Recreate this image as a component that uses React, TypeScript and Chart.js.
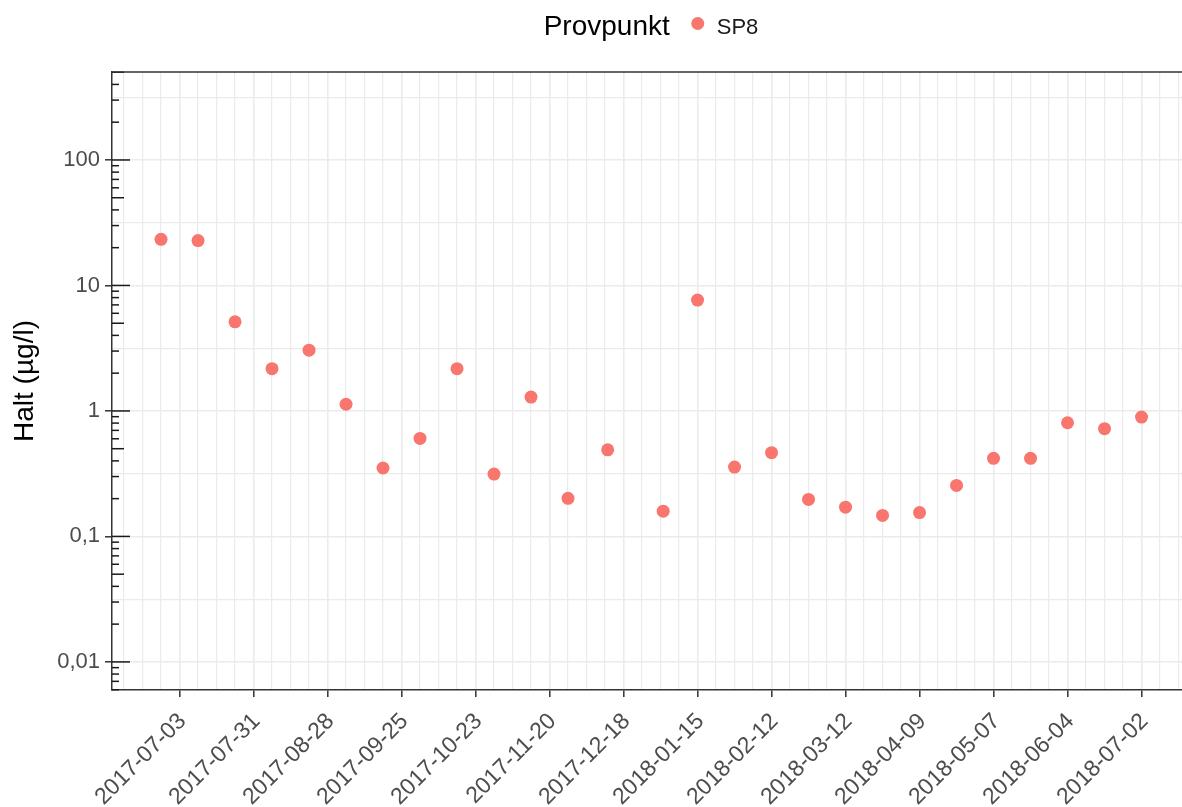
import React, { useEffect, useRef } from "react";
import { Chart, registerables } from "chart.js";

Chart.register(...registerables);

// ---- data ----
const sampleDates: string[] = [
  "2017-06-26", "2017-07-10", "2017-07-24", "2017-08-07", "2017-08-21",
  "2017-09-04", "2017-09-18", "2017-10-02", "2017-10-16", "2017-10-30",
  "2017-11-13", "2017-11-27", "2017-12-12", "2018-01-02", "2018-01-15",
  "2018-01-29", "2018-02-12", "2018-02-26", "2018-03-12", "2018-03-26",
  "2018-04-09", "2018-04-23", "2018-05-07", "2018-05-21", "2018-06-04",
  "2018-06-18", "2018-07-02",
];
const sp8Values: number[] = [
  23.3, 22.8, 5.13, 2.17, 3.05,
  1.13, 0.351, 0.604, 2.17, 0.314,
  1.29, 0.201, 0.49, 0.159, 7.65,
  0.357, 0.465, 0.197, 0.171, 0.147,
  0.155, 0.255, 0.419, 0.419, 0.805,
  0.722, 0.893,
];
const xTickLabels: string[] = [
  "2017-07-03", "2017-07-31", "2017-08-28", "2017-09-25", "2017-10-23",
  "2017-11-20", "2017-12-18", "2018-01-15", "2018-02-12", "2018-03-12",
  "2018-04-09", "2018-05-07", "2018-06-04", "2018-07-02",
];
const yTickValues: number[] = [0.01, 0.1, 1, 10, 100];
const yTickLabels: string[] = ["0,01", "0,1", "1", "10", "100"];
const seriesName = "SP8";
const legendTitle = "Provpunkt";
const yTitle = "Halt (µg/l)";

// ---- helpers ----
const DAY = 86400000;
const toMs = (s: string) => {
  const [y, m, d] = s.split("-").map(Number);
  return Date.UTC(y, m - 1, d);
};
const fmt = (ms: number) => new Date(ms).toISOString().slice(0, 10);

const X_MIN = toMs(sampleDates[0]) - 18.55 * DAY;
const X_MAX = toMs(sampleDates[sampleDates.length - 1]) + 15.5 * DAY;
const Y_MIN = Math.pow(10, -2.2239);
const Y_MAX = Math.pow(10, 2.701);

const W = 1182;
const H = 807;
const FONT = "'Liberation Sans', Arial, sans-serif";
const POINT_COLOR = "#F8766D";
const GRID = "#EBEBEB";
const AXIS = "#333333";

const labelSet = new Set(xTickLabels);

const overlayPlugin = {
  id: "overlay",
  afterDraw(chart: any) {
    const { ctx, chartArea: a, scales } = chart;
    const y = scales.y;
    ctx.save();
    // log ticks (inside)
    ctx.strokeStyle = "#1a1a1a";
    ctx.lineWidth = 1.5;
    for (let k = -3; k <= 2; k++) {
      for (let m = 1; m <= 9; m++) {
        const v = m * Math.pow(10, k);
        if (v < y.min || v > y.max) continue;
        const py = y.getPixelForValue(v);
        const len = m === 1 ? 18 : m === 5 ? 12 : 7;
        ctx.beginPath();
        ctx.moveTo(a.left, py);
        ctx.lineTo(a.left + len, py);
        ctx.stroke();
      }
    }
    // top border
    ctx.strokeStyle = AXIS;
    ctx.lineWidth = 1.4;
    ctx.beginPath();
    ctx.moveTo(a.left, a.top);
    ctx.lineTo(chart.width, a.top);
    ctx.stroke();

    // legend
    ctx.textBaseline = "alphabetic";
    ctx.textAlign = "left";
    ctx.font = `28px ${FONT}`;
    const w1 = ctx.measureText(legendTitle).width;
    ctx.font = `22px ${FONT}`;
    const w2 = ctx.measureText(seriesName).width;
    const total = w1 + 22 + 12 + 13 + w2;
    let x0 = 651 - total / 2;
    ctx.fillStyle = "#000000";
    ctx.font = `28px ${FONT}`;
    ctx.fillText(legendTitle, x0, 35);
    x0 += w1 + 22;
    ctx.fillStyle = POINT_COLOR;
    ctx.beginPath();
    ctx.arc(x0 + 6, 23.5, 6.5, 0, Math.PI * 2);
    ctx.fill();
    x0 += 12 + 13;
    ctx.fillStyle = "#1a1a1a";
    ctx.font = `22px ${FONT}`;
    ctx.fillText(seriesName, x0, 33.5);
    ctx.restore();
  },
};

export default function App() {
  const ref = useRef<HTMLCanvasElement>(null);

  useEffect(() => {
    const canvas = ref.current;
    if (!canvas) return;
    const weekly: number[] = [];
    const firstMonday = toMs(xTickLabels[0]);
    for (let t = firstMonday - 70 * DAY; t <= X_MAX; t += 7 * DAY) {
      if (t >= X_MIN) weekly.push(t);
    }
    const yAll: number[] = [];
    for (let k = -3; k <= 3; k++) {
      for (const e of [0, 0.5]) {
        const v = Math.pow(10, k + e);
        if (v >= Y_MIN && v <= Y_MAX) yAll.push(v);
      }
    }
    const isDecade = (v: number) => {
      const l = Math.log10(v);
      return Math.abs(l - Math.round(l)) < 1e-6;
    };
    const yLabel = (v: number) => {
      const i = yTickValues.findIndex((t) => Math.abs(Math.log10(t) - Math.log10(v)) < 1e-6);
      return i >= 0 ? yTickLabels[i] : "";
    };

    const build = (width: number) => {
      canvas.width = width;
      canvas.height = H;
      canvas.style.width = `${width}px`;
      canvas.style.height = `${H}px`;
      return new Chart(canvas, {
        type: "scatter",
        data: {
          datasets: [
            {
              label: seriesName,
              data: sampleDates.map((d, i) => ({ x: toMs(d), y: sp8Values[i] })),
              backgroundColor: POINT_COLOR,
              borderWidth: 0,
              pointRadius: 6.5,
              pointHoverRadius: 6.5,
            },
          ],
        },
        options: {
          animation: false,
          responsive: false,
          devicePixelRatio: 1,
          layout: { padding: { top: 72, left: 0, right: 0, bottom: 0 } },
          plugins: {
            legend: { display: false },
            tooltip: { enabled: false },
          },
          scales: {
            x: {
              type: "linear",
              min: X_MIN,
              max: X_MAX,
              afterBuildTicks: (s: any) => {
                s.ticks = weekly.map((v) => ({ value: v }));
              },
              afterFit: (s: any) => {
                s.height = 117;
                s.paddingLeft = 0;
                s.paddingRight = 0;
              },
              ticks: {
                autoSkip: false,
                minRotation: 45,
                maxRotation: 45,
                padding: 11,
                labelOffset: 3,
                color: "#4D4D4D",
                font: { family: FONT, size: 23 },
                callback: (v: any) => {
                  const s = fmt(Number(v));
                  return labelSet.has(s) ? s : "";
                },
              },
              grid: {
                color: GRID,
                lineWidth: (c: any) => (c.tick && labelSet.has(fmt(c.tick.value)) ? 1.6 : 1.2),
                tickLength: 7,
                tickWidth: 1.5,
                tickColor: (c: any) =>
                  c.tick && labelSet.has(fmt(c.tick.value)) ? AXIS : "rgba(0,0,0,0)",
              },
              border: { display: true, color: AXIS, width: 1.5 },
            },
            y: {
              type: "logarithmic",
              min: Y_MIN,
              max: Y_MAX,
              afterBuildTicks: (s: any) => {
                s.ticks = yAll.map((v) => ({ value: v }));
              },
              afterFit: (s: any) => {
                s.width = 112;
              },
              ticks: {
                autoSkip: false,
                padding: 5,
                color: "#4D4D4D",
                font: { family: FONT, size: 22 },
                callback: (v: any) => yLabel(Number(v)),
              },
              grid: {
                color: GRID,
                lineWidth: (c: any) => (c.tick && isDecade(c.tick.value) ? 1.6 : 1.2),
                tickLength: 7,
                tickWidth: 1.5,
                tickColor: (c: any) => (c.tick && isDecade(c.tick.value) ? AXIS : "rgba(0,0,0,0)"),
              },
              border: { display: true, color: AXIS, width: 1.5 },
              title: {
                display: true,
                text: yTitle,
                color: "#000000",
                font: { family: FONT, size: 28, lineHeight: 1.2 },
                padding: { top: 8, bottom: 0 },
              },
            },
          },
        },
        plugins: [overlayPlugin],
      });
    };

    let chart = build(W);
    // make the plot panel reach the right edge of the view (the rest is clipped)
    const gap = W - chart.scales.x.right;
    if (gap > 0.5) {
      chart.destroy();
      chart = build(Math.round(W + gap));
    }
    return () => chart.destroy();
  }, []);

  return (
    <div
      style={{
        position: "fixed",
        left: 0,
        top: 0,
        width: W,
        height: H,
        background: "#ffffff",
        overflow: "hidden",
      }}
    >
      <canvas ref={ref} width={W} height={H} style={{ display: "block" }} />
    </div>
  );
}
